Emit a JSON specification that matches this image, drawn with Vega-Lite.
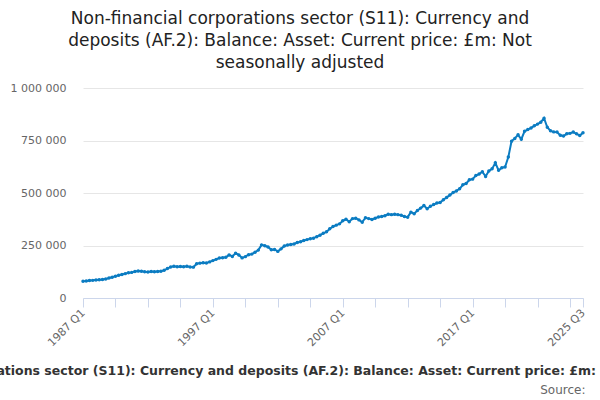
{
  "$schema": "https://vega.github.io/schema/vega-lite/v6.json",
  "width": 500,
  "height": 210,
  "autosize": {"type": "none"},
  "padding": {"left": 83, "top": 88, "right": 17, "bottom": 102},
  "background": "white",
  "config": {
    "locale": {"number": {"decimal": ".", "thousands": " ", "grouping": [3], "currency": ["£", ""]}},
    "view": {"stroke": null},
    "font": "DejaVu Sans"
  },
  "title": {
    "text": ["Non-financial corporations sector (S11): Currency and", "deposits (AF.2): Balance: Asset: Current price: £m: Not", "seasonally adjusted"],
    "anchor": "middle",
    "dx": -33,
    "fontSize": 17,
    "fontWeight": "normal",
    "lineHeight": 22,
    "color": "#222222",
    "offset": 10
  },
  "data": {
    "values": [
      {"quarter": "1987 Q1", "value": 80000}, {"quarter": "1987 Q2", "value": 81000}, {"quarter": "1987 Q3", "value": 83000}, {"quarter": "1987 Q4", "value": 84000},
      {"quarter": "1988 Q1", "value": 86000}, {"quarter": "1988 Q2", "value": 87000}, {"quarter": "1988 Q3", "value": 88000}, {"quarter": "1988 Q4", "value": 90000},
      {"quarter": "1989 Q1", "value": 95000}, {"quarter": "1989 Q2", "value": 99000}, {"quarter": "1989 Q3", "value": 104000}, {"quarter": "1989 Q4", "value": 108000},
      {"quarter": "1990 Q1", "value": 112000}, {"quarter": "1990 Q2", "value": 116000}, {"quarter": "1990 Q3", "value": 120000}, {"quarter": "1990 Q4", "value": 122000},
      {"quarter": "1991 Q1", "value": 126000}, {"quarter": "1991 Q2", "value": 129000}, {"quarter": "1991 Q3", "value": 127000}, {"quarter": "1991 Q4", "value": 125000},
      {"quarter": "1992 Q1", "value": 124000}, {"quarter": "1992 Q2", "value": 126000}, {"quarter": "1992 Q3", "value": 125000}, {"quarter": "1992 Q4", "value": 126000},
      {"quarter": "1993 Q1", "value": 127000}, {"quarter": "1993 Q2", "value": 132000}, {"quarter": "1993 Q3", "value": 140000}, {"quarter": "1993 Q4", "value": 148000},
      {"quarter": "1994 Q1", "value": 151000}, {"quarter": "1994 Q2", "value": 149000}, {"quarter": "1994 Q3", "value": 150000}, {"quarter": "1994 Q4", "value": 149000},
      {"quarter": "1995 Q1", "value": 151000}, {"quarter": "1995 Q2", "value": 148000}, {"quarter": "1995 Q3", "value": 147000}, {"quarter": "1995 Q4", "value": 163000},
      {"quarter": "1996 Q1", "value": 166000}, {"quarter": "1996 Q2", "value": 168000}, {"quarter": "1996 Q3", "value": 167000}, {"quarter": "1996 Q4", "value": 172000},
      {"quarter": "1997 Q1", "value": 178000}, {"quarter": "1997 Q2", "value": 184000}, {"quarter": "1997 Q3", "value": 190000}, {"quarter": "1997 Q4", "value": 192000},
      {"quarter": "1998 Q1", "value": 194000}, {"quarter": "1998 Q2", "value": 205000}, {"quarter": "1998 Q3", "value": 198000}, {"quarter": "1998 Q4", "value": 213000},
      {"quarter": "1999 Q1", "value": 205000}, {"quarter": "1999 Q2", "value": 191000}, {"quarter": "1999 Q3", "value": 197000}, {"quarter": "1999 Q4", "value": 206000},
      {"quarter": "2000 Q1", "value": 209000}, {"quarter": "2000 Q2", "value": 218000}, {"quarter": "2000 Q3", "value": 228000}, {"quarter": "2000 Q4", "value": 253000},
      {"quarter": "2001 Q1", "value": 249000}, {"quarter": "2001 Q2", "value": 243000}, {"quarter": "2001 Q3", "value": 230000}, {"quarter": "2001 Q4", "value": 231000},
      {"quarter": "2002 Q1", "value": 222000}, {"quarter": "2002 Q2", "value": 234000}, {"quarter": "2002 Q3", "value": 248000}, {"quarter": "2002 Q4", "value": 252000},
      {"quarter": "2003 Q1", "value": 255000}, {"quarter": "2003 Q2", "value": 257000}, {"quarter": "2003 Q3", "value": 264000}, {"quarter": "2003 Q4", "value": 268000},
      {"quarter": "2004 Q1", "value": 274000}, {"quarter": "2004 Q2", "value": 278000}, {"quarter": "2004 Q3", "value": 282000}, {"quarter": "2004 Q4", "value": 285000},
      {"quarter": "2005 Q1", "value": 292000}, {"quarter": "2005 Q2", "value": 299000}, {"quarter": "2005 Q3", "value": 308000}, {"quarter": "2005 Q4", "value": 315000},
      {"quarter": "2006 Q1", "value": 330000}, {"quarter": "2006 Q2", "value": 340000}, {"quarter": "2006 Q3", "value": 347000}, {"quarter": "2006 Q4", "value": 353000},
      {"quarter": "2007 Q1", "value": 368000}, {"quarter": "2007 Q2", "value": 375000}, {"quarter": "2007 Q3", "value": 363000}, {"quarter": "2007 Q4", "value": 378000},
      {"quarter": "2008 Q1", "value": 380000}, {"quarter": "2008 Q2", "value": 372000}, {"quarter": "2008 Q3", "value": 361000}, {"quarter": "2008 Q4", "value": 382000},
      {"quarter": "2009 Q1", "value": 378000}, {"quarter": "2009 Q2", "value": 374000}, {"quarter": "2009 Q3", "value": 380000}, {"quarter": "2009 Q4", "value": 386000},
      {"quarter": "2010 Q1", "value": 388000}, {"quarter": "2010 Q2", "value": 392000}, {"quarter": "2010 Q3", "value": 399000}, {"quarter": "2010 Q4", "value": 397000},
      {"quarter": "2011 Q1", "value": 399000}, {"quarter": "2011 Q2", "value": 397000}, {"quarter": "2011 Q3", "value": 394000}, {"quarter": "2011 Q4", "value": 388000},
      {"quarter": "2012 Q1", "value": 385000}, {"quarter": "2012 Q2", "value": 409000}, {"quarter": "2012 Q3", "value": 401000}, {"quarter": "2012 Q4", "value": 417000},
      {"quarter": "2013 Q1", "value": 428000}, {"quarter": "2013 Q2", "value": 440000}, {"quarter": "2013 Q3", "value": 425000}, {"quarter": "2013 Q4", "value": 437000},
      {"quarter": "2014 Q1", "value": 445000}, {"quarter": "2014 Q2", "value": 452000}, {"quarter": "2014 Q3", "value": 455000}, {"quarter": "2014 Q4", "value": 468000},
      {"quarter": "2015 Q1", "value": 479000}, {"quarter": "2015 Q2", "value": 490000}, {"quarter": "2015 Q3", "value": 502000}, {"quarter": "2015 Q4", "value": 510000},
      {"quarter": "2016 Q1", "value": 520000}, {"quarter": "2016 Q2", "value": 539000}, {"quarter": "2016 Q3", "value": 545000}, {"quarter": "2016 Q4", "value": 563000},
      {"quarter": "2017 Q1", "value": 566000}, {"quarter": "2017 Q2", "value": 583000}, {"quarter": "2017 Q3", "value": 590000}, {"quarter": "2017 Q4", "value": 601000},
      {"quarter": "2018 Q1", "value": 579000}, {"quarter": "2018 Q2", "value": 605000}, {"quarter": "2018 Q3", "value": 615000}, {"quarter": "2018 Q4", "value": 644000},
      {"quarter": "2019 Q1", "value": 608000}, {"quarter": "2019 Q2", "value": 620000}, {"quarter": "2019 Q3", "value": 624000}, {"quarter": "2019 Q4", "value": 671000},
      {"quarter": "2020 Q1", "value": 747000}, {"quarter": "2020 Q2", "value": 760000}, {"quarter": "2020 Q3", "value": 777000}, {"quarter": "2020 Q4", "value": 756000},
      {"quarter": "2021 Q1", "value": 794000}, {"quarter": "2021 Q2", "value": 802000}, {"quarter": "2021 Q3", "value": 810000}, {"quarter": "2021 Q4", "value": 820000},
      {"quarter": "2022 Q1", "value": 828000}, {"quarter": "2022 Q2", "value": 837000}, {"quarter": "2022 Q3", "value": 856000}, {"quarter": "2022 Q4", "value": 813000},
      {"quarter": "2023 Q1", "value": 796000}, {"quarter": "2023 Q2", "value": 791000}, {"quarter": "2023 Q3", "value": 790000}, {"quarter": "2023 Q4", "value": 775000},
      {"quarter": "2024 Q1", "value": 771000}, {"quarter": "2024 Q2", "value": 782000}, {"quarter": "2024 Q3", "value": 784000}, {"quarter": "2024 Q4", "value": 790000},
      {"quarter": "2025 Q1", "value": 782000}, {"quarter": "2025 Q2", "value": 774000}, {"quarter": "2025 Q3", "value": 787000}
    ]
  },
  "mark": {
    "type": "line",
    "color": "#0b7cc2",
    "strokeWidth": 2,
    "point": {"filled": true, "size": 12, "color": "#0b7cc2"}
  },
  "encoding": {
    "x": {
      "field": "quarter",
      "type": "ordinal",
      "sort": null,
      "scale": {"type": "point", "padding": 0},
      "axis": {
        "title": "Non-financial corporations sector (S11): Currency and deposits (AF.2): Balance: Asset: Current price: £m: Not seasonally adjusted",
        "titleFontSize": 12.5,
        "titleFontWeight": "bold",
        "titleColor": "#333333",
        "titleLimit": 3000,
        "titleX": 228,
        "titleY": 76,
        "titleAlign": "center",
        "titleBaseline": "alphabetic",
        "values": ["1987 Q1", "1989 Q3", "1992 Q1", "1994 Q3", "1997 Q1", "1999 Q3", "2002 Q1", "2004 Q3", "2007 Q1", "2009 Q3", "2012 Q1", "2014 Q3", "2017 Q1", "2019 Q3", "2022 Q1", "2024 Q3", "2025 Q3"],
        "labelExpr": "indexof(['1987 Q1', '1997 Q1', '2007 Q1', '2017 Q1', '2025 Q3'], datum.value) >= 0 ? datum.value : ''",
        "labelAngle": -45,
        "labelAlign": "right",
        "labelBaseline": "middle",
        "labelFontSize": 11,
        "labelColor": "#666666",
        "labelPadding": 4,
        "labelOverlap": false,
        "domainColor": "#ccd6eb",
        "tickColor": "#ccd6eb",
        "tickSize": 9,
        "grid": false
      }
    },
    "y": {
      "field": "value",
      "type": "quantitative",
      "scale": {"domain": [0, 1000000]},
      "axis": {
        "title": "Source:",
        "titleAngle": 0,
        "titleX": 502,
        "titleY": 301,
        "titleAlign": "right",
        "titleBaseline": "middle",
        "titleFontSize": 12,
        "titleFontWeight": "normal",
        "titleColor": "#666666",
        "values": [0, 250000, 500000, 750000, 1000000],
        "format": ",.0f",
        "labelFontSize": 11,
        "labelColor": "#666666",
        "labelPadding": 17,
        "domain": false,
        "ticks": false,
        "gridColor": "#e6e6e6"
      }
    }
  }
}
